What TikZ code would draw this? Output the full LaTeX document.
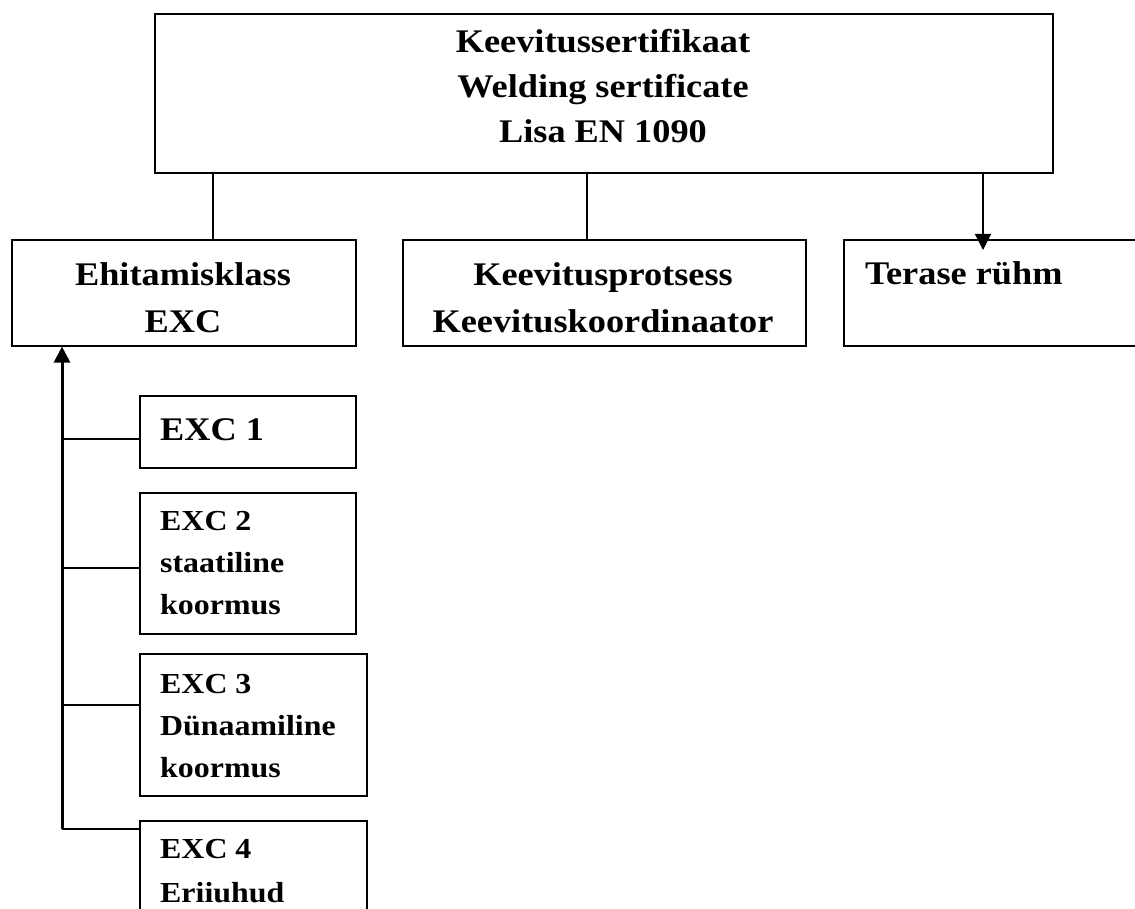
\documentclass[tikz,border=0pt]{standalone}
\usepackage{fontspec}
\setmainfont{Liberation Serif}[FakeStretch=1.1]
\usetikzlibrary{arrows.meta,positioning}
\tikzset{>={Triangle[width=16pt,length=16pt]}}
\tikzset{
  box/.style={draw,line width=1.6pt,anchor=north west,inner sep=0pt},
  link/.style={line width=1.4pt},
  bigtxt/.style={font=\bfseries\fontsize{33}{45}\selectfont,inner sep=0pt},
  midtxt/.style={font=\bfseries\fontsize{33}{47}\selectfont,inner sep=0pt},
  smalltxt/.style={font=\bfseries\fontsize{29}{42}\selectfont,inner sep=0pt,align=left,anchor=base west}
}
\newcommand*{\diabox}[5]
  {\node[box,minimum width=#4pt,minimum height=#5pt] (#1) at (#2,#3) {}}

\begin{document}
\begin{tikzpicture}[x=1pt,y=-1pt]
\useasboundingbox (0,0) rectangle (1135,909);
\clip (0,0) rectangle (1135,909);
% boxes
\diabox{cert}{154}{13}{898}{159};
\diabox{ehit}{11}{239}{344}{106};
\diabox{keev}{402}{239}{403}{106};
\diabox{teras}{843}{239}{330}{106};
\diabox{exc1}{139}{395}{216}{72};
\diabox{exc2}{139}{492}{216}{141};
\diabox{exc3}{139}{653}{227}{142};
\diabox{exc4}{139}{820}{227}{140};
% texts (base = last line)
\node[bigtxt,align=center,anchor=base] (certtxt) at (603,143)
  {Keevitussertifikaat\\Welding sertificate\\Lisa EN 1090};
\node[midtxt,align=center,anchor=base] (ehittxt) at (183,332) {Ehitamisklass\\EXC};
\node[midtxt,align=center,anchor=base] (keevtxt) at (603,332)
  {Keevitusprotsess\\Keevituskoordinaator};
\node[midtxt,anchor=base west] (terastxt) at (865,285) {Terase rühm};
\node[midtxt,anchor=base west] (exc1txt) at (160,440) {EXC 1};
\node[smalltxt] (exc2txt) at (160,614) {EXC 2\\staatiline\\koormus};
\node[smalltxt] (exc3txt) at (160,777) {EXC 3\\Dünaamiline\\koormus};
\node[smalltxt,font=\bfseries\fontsize{29}{44}\selectfont] (exc4txt) at (160,902) {EXC 4\\Eriiuhud};
% links from the certificate
\draw[link] ([xshift=59pt]cert.south west) -- ([xshift=59pt]cert.south west |- ehit.north);
\draw[link] ([xshift=433pt]cert.south west) -- ([xshift=433pt]cert.south west |- keev.north);
\draw[link,->,shorten >=-11pt] ([xshift=829pt]cert.south west)
  -- ([xshift=829pt]cert.south west |- teras.north);
% EXC classes
\coordinate (trunk) at (62,829);
\draw[line width=3pt,->] (trunk) -- (trunk |- ehit.south);
\foreach \b/\y in {exc1/439,exc2/568,exc3/705,exc4/829}
  \draw[link] (trunk |- 0,\y) -- (\b.west |- 0,\y);
\end{tikzpicture}
\end{document}
